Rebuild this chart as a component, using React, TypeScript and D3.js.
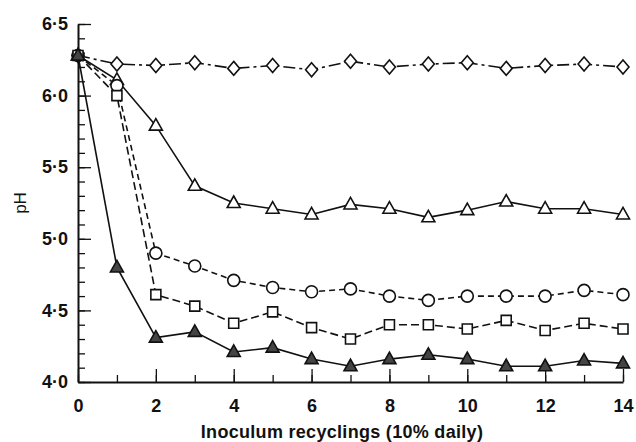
import React, { useEffect, useRef } from 'react';
import * as d3 from 'd3';

const recyclings = [0, 1, 2, 3, 4, 5, 6, 7, 8, 9, 10, 11, 12, 13, 14];
const diamondPH = [6.28, 6.22, 6.21, 6.23, 6.19, 6.21, 6.18, 6.24, 6.2, 6.22, 6.23, 6.19, 6.21, 6.22, 6.2];
const openTrianglePH = [6.28, 6.11, 5.79, 5.37, 5.25, 5.21, 5.17, 5.24, 5.21, 5.15, 5.2, 5.26, 5.21, 5.21, 5.17];
const circlePH = [6.28, 6.07, 4.9, 4.81, 4.71, 4.66, 4.63, 4.65, 4.6, 4.57, 4.6, 4.6, 4.6, 4.64, 4.61];
const squarePH = [6.28, 6.0, 4.61, 4.53, 4.41, 4.49, 4.38, 4.3, 4.4, 4.4, 4.37, 4.43, 4.36, 4.41, 4.37];
const filledTrianglePH = [6.28, 4.8, 4.31, 4.35, 4.21, 4.24, 4.16, 4.11, 4.16, 4.19, 4.16, 4.11, 4.11, 4.15, 4.13];

const xTicks = [0, 2, 4, 6, 8, 10, 12, 14];
const yTicks = [4.0, 4.5, 5.0, 5.5, 6.0, 6.5];

const series = [
    { name: 'diamond', values: diamondPH, dash: '12,4,3,4' },
    { name: 'openTriangle', values: openTrianglePH, dash: null },
    { name: 'circle', values: circlePH, dash: '6,4' },
    { name: 'square', values: squarePH, dash: '8,4' },
    { name: 'filledTriangle', values: filledTrianglePH, dash: null },
];

const markerPath = (name: string) => {
    if (name === 'diamond') return 'M0,-7L6,0L0,7L-6,0Z';
    if (name === 'square') return 'M-5,-5H5V5H-5Z';
    if (name === 'circle') return 'M6,0A6,6 0 1,1 -6,0A6,6 0 1,1 6,0Z';
    return 'M0,-7L6.5,4.5L-6.5,4.5Z';
};

function App() {
    const ref = useRef<SVGSVGElement>(null);

    useEffect(() => {
        const svg = d3.select(ref.current);
        svg.selectAll('*').remove();

        const x = d3.scaleLinear().domain([0, 14]).range([78, 623]);
        const y = d3.scaleLinear().domain([4, 6.5]).range([382, 24]);
        const font = '"Liberation Sans", Arial, sans-serif';
        const fmt = (d: number) => d3.format('.1f')(d).replace('.', '·');

        // y axis: minor ticks every 0.1, major with labels
        const yMinor = svg.append('g').attr('transform', 'translate(78,0)')
            .call(d3.axisLeft(y).tickValues(d3.range(40, 66).map(v => v / 10)).tickSize(-7).tickSizeOuter(0).tickFormat(() => ''));
        yMinor.select('.domain').remove();
        const yMajor = svg.append('g').attr('transform', 'translate(78,0)')
            .call(d3.axisLeft(y).tickValues(yTicks).tickSize(-13).tickSizeOuter(0).tickPadding(10).tickFormat(d => fmt(+d)));

        // x axis: ticks at every integer pointing up
        const xMinor = svg.append('g').attr('transform', 'translate(0,382)')
            .call(d3.axisBottom(x).tickValues(recyclings).tickSize(-7).tickSizeOuter(0).tickFormat(() => ''));
        xMinor.select('.domain').remove();
        const xMajor = svg.append('g').attr('transform', 'translate(0,382)')
            .call(d3.axisBottom(x).tickValues(xTicks).tickSize(-13).tickSizeOuter(0).tickPadding(17).tickFormat(d => String(d)));

        [yMinor, yMajor, xMinor, xMajor].forEach(g => {
            g.selectAll('line').attr('stroke', '#111').attr('stroke-width', 1.3);
            g.selectAll('.domain').attr('stroke', '#111').attr('stroke-width', 2);
            g.selectAll('text').attr('font-family', font).attr('font-size', 18).attr('font-weight', 'bold').attr('fill', '#111');
        });

        const line = d3.line<number>().x((_, i) => x(recyclings[i])).y(d => y(d));

        series.forEach(s => {
            svg.append('path')
                .attr('d', line(s.values))
                .attr('fill', 'none')
                .attr('stroke', '#111')
                .attr('stroke-width', 1.6)
                .attr('stroke-dasharray', s.dash);
        });

        series.forEach(s => {
            svg.append('g').selectAll('path')
                .data(s.values)
                .enter()
                .append('path')
                .attr('transform', (d, i) => `translate(${x(recyclings[i])},${y(d)})`)
                .attr('d', markerPath(s.name))
                .attr('fill', s.name === 'filledTriangle' ? '#444' : '#fff')
                .attr('stroke', '#111')
                .attr('stroke-width', 1.6);
        });

        svg.append('text')
            .attr('x', 342)
            .attr('y', 438)
            .attr('text-anchor', 'middle')
            .attr('font-family', font)
            .attr('font-size', 18)
            .attr('font-weight', 'bold')
            .attr('letter-spacing', 0.3)
            .attr('fill', '#111')
            .text('Inoculum recyclings (10% daily)');

        svg.append('text')
            .attr('transform', 'translate(26,203) rotate(-90)')
            .attr('text-anchor', 'middle')
            .attr('font-family', font)
            .attr('font-size', 17)
            .attr('fill', '#111')
            .text('pH');
    }, []);

    return (
        <svg ref={ref} width={636} height={442}
            style={{ position: 'absolute', left: 0, top: 0, background: '#fff' }} />
    );
}

export default App;
